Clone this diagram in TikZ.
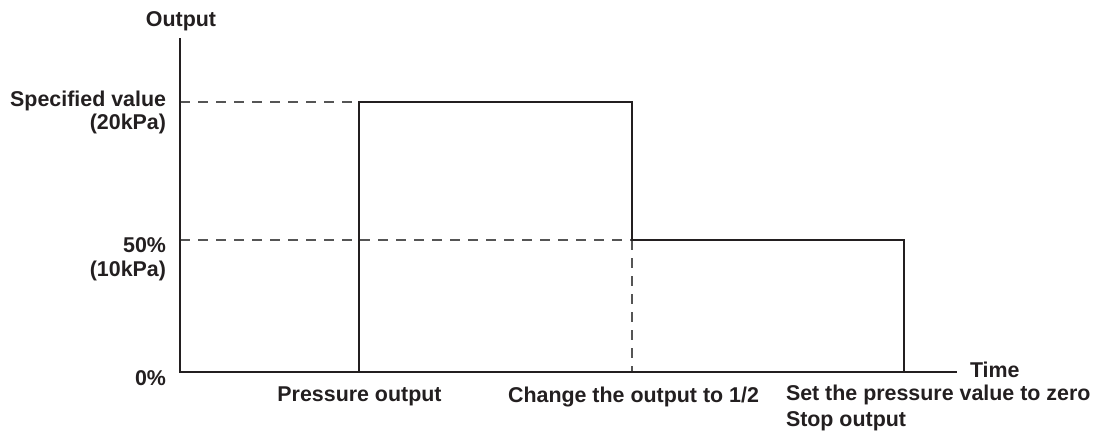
\documentclass[tikz,border=0pt]{standalone}
\usepackage{fontspec}
\setmainfont{Liberation Sans}
\definecolor{ink}{HTML}{231F20}
\definecolor{dashgray}{HTML}{555555}
\begin{document}
\begin{tikzpicture}[x=0.5pt,y=-0.5pt,
  solidline/.style={draw=ink,line width=0.75pt},
  guideline/.style={draw=dashgray,line width=0.75pt,dash pattern=on 5pt off 4pt},
  lbl/.style={text=ink,font=\fontsize{10.7pt}{12pt}\selectfont\bfseries,inner sep=0pt,outer sep=0pt},
]
\useasboundingbox (0,0) rectangle (1108,434);
% key points
\coordinate (top) at (180,38);
\coordinate (origin) at (180,372);
\coordinate (xend) at (957,372);
\coordinate (yspec) at (180,102);
\coordinate (yhalf) at (180,240);
\coordinate (p0) at (359,372);
\coordinate (p1) at (359,102);
\coordinate (p2) at (632,102);
\coordinate (p3) at (632,240);
\coordinate (p4) at (904,240);
\coordinate (p5) at (904,372);
\coordinate (pbase) at (632,372);
% guides
\draw[guideline] (yspec) -- (p1);
\draw[guideline] (yhalf) -- (p3);
\draw[guideline] (p3) -- (pbase);
% axes
\draw[solidline] (top) -- (origin) -- (xend);
% pulse
\draw[solidline,line join=miter] (p0) -- (p1) -- (p2) -- (p3) -- (p4) -- (p5);
% labels (base anchor of a multi-line node = last line's baseline)
\node[lbl,anchor=base] (out) at (181,26.5) {Output};
\node[lbl,anchor=base east,align=right] (spec) at (166,129.5) {Specified value\\[-0.5pt](20kPa)};
\node[lbl,anchor=base east,align=right] (half) at (166,276) {50\%\\[0pt](10kPa)};
\node[lbl,anchor=base east] (zero) at (166,385) {0\%};
\node[lbl,anchor=base west] (time) at (970,377) {Time};
\node[lbl,anchor=base] (press) at (359.5,401.7) {Pressure output};
\node[lbl,anchor=base] (change) at (633.5,402) {Change the output to 1/2};
\node[lbl,anchor=base west,align=left] (stop) at (786,426) {Set the pressure value to zero\\[1pt]Stop output};
\end{tikzpicture}
\end{document}
